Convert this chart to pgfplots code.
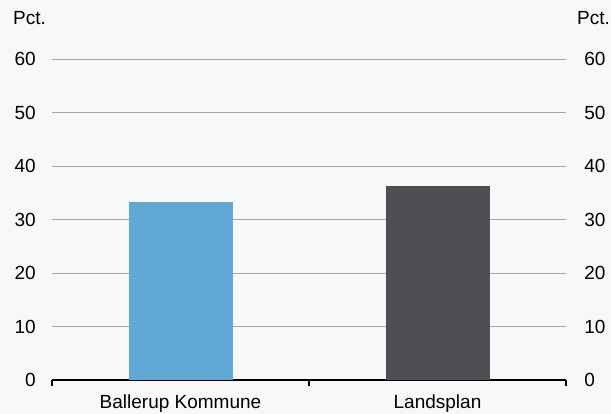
\documentclass[border=0pt]{standalone}
\usepackage{pgfplots}
\pgfplotsset{compat=1.18}
\usepackage{fontspec}
\setmainfont{Liberation Sans}
\definecolor{bg}{HTML}{F7F9F9}
\definecolor{barblue}{HTML}{62A8D4}
\definecolor{bardark}{HTML}{4D4F53}
\definecolor{gridgray}{HTML}{A6A6A6}
\newcommand{\lbl}{\fontsize{19}{22}\selectfont}
\begin{document}
\begin{tikzpicture}
\useasboundingbox[fill=bg] (0,0) rectangle (611pt,414pt);
\pgfplotsset{
  common/.style={
    at={(52pt,34pt)}, anchor=south west,
    scale only axis, width=514pt, height=321pt,
    xmin=-0.5, xmax=1.5, ymin=0, ymax=60,
    ytick={0,10,...,60},
    /pgf/number format/assume math mode=true,
    tick label style={font=\lbl},
  }
}
\begin{axis}[common,
  axis x line=bottom, axis y line=left,
  y axis line style={draw=none},
  x axis line style={line width=1.4pt,black,-},
  ytick style={draw=none},
  ymajorgrids, grid style={gridgray, line width=0.7pt},
  yticklabel style={anchor=east, inner sep=0pt, xshift=-16pt},
  xtick={0,1}, xticklabels={Ballerup Kommune, Landsplan},
  xtick style={black, line width=1.4pt},
  major tick length=0pt,
  tick align=outside,
  xticklabel style={anchor=north, inner sep=0pt, yshift=-15pt},
  extra x ticks={-0.5,0.5,1.5}, extra x tick labels={},
  extra x tick style={grid=none, major tick length=6pt},
]
\addplot[ybar, bar width=104pt, bar shift=0pt, fill=barblue, draw=none]
  coordinates {(0,33.3)};
\addplot[ybar, bar width=104pt, bar shift=0pt, fill=bardark, draw=none]
  coordinates {(1,36.2)};
\end{axis}
\begin{axis}[common,
  axis x line=none, axis y line=right,
  y axis line style={draw=none},
  ytick style={draw=none},
  yticklabel style={anchor=west, inner sep=0pt, xshift=16pt},
  xtick=\empty,
]
\end{axis}
\node[anchor=base west, inner sep=0pt, font=\lbl] at (13pt,389pt) {Pct.};
\node[anchor=base west, inner sep=0pt, font=\lbl] at (577pt,389pt) {Pct.};
\end{tikzpicture}
\end{document}
